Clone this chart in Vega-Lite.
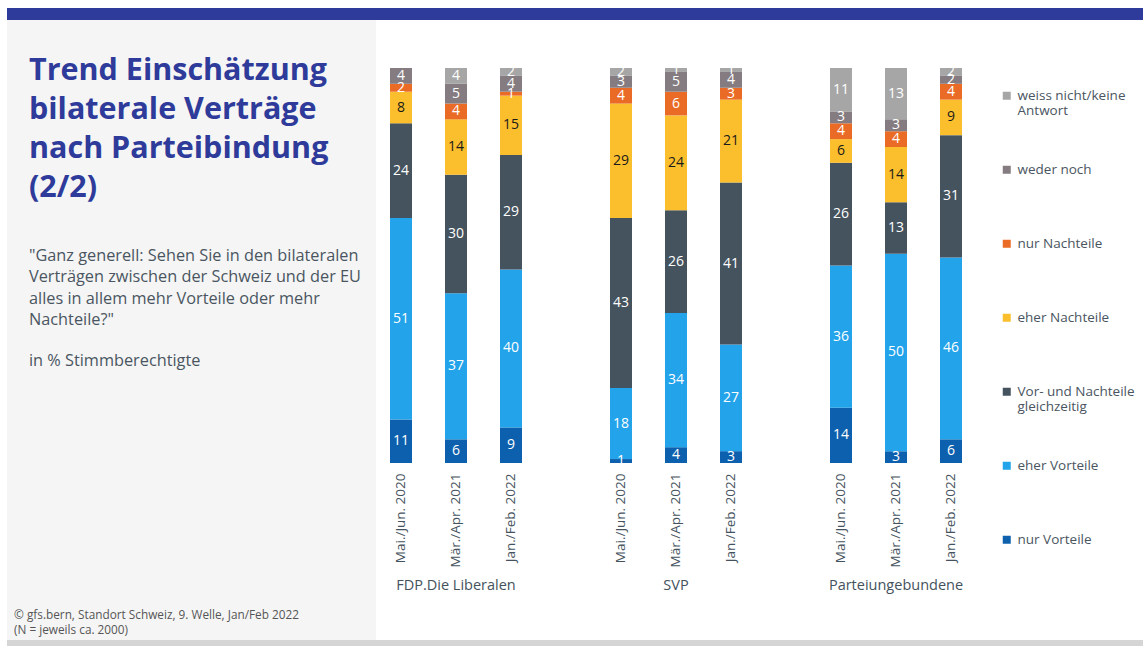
{
  "$schema": "https://vega.github.io/schema/vega-lite/v6.json",
  "background": "white",
  "padding": {"left": 7, "top": 8, "right": 0, "bottom": 0},
  "autosize": {"type": "pad"},
  "spacing": 0,
  "bounds": "full",
  "config": {"view": {"stroke": null}, "font": "Open Sans", "concat": {"spacing": 0}},
  "vconcat": [
    {"width": 1136, "height": 12, "view": {"fill": "#2e3b9a", "stroke": null}, "data": {"values": []}, "mark": "point", "encoding": {}},
    {
      "spacing": 0,
      "bounds": "full",
      "hconcat": [
        {
          "spacing": 0,
          "bounds": "full",
          "vconcat": [
            {
              "width": 369, "height": 330,
              "view": {"fill": "#f5f5f5", "stroke": null},
              "data": {"values": []}, "mark": "point", "encoding": {},
              "title": {
                "text": ["Trend Einschätzung", "bilaterale Verträge", "nach Parteibindung", "(2/2)"],
                "subtitle": ["\"Ganz generell: Sehen Sie in den bilateralen", "Verträgen zwischen der Schweiz und der EU", "alles in allem mehr Vorteile oder mehr", "Nachteile?\""],
                "orient": "bottom", "anchor": "start", "frame": "group",
                "offset": -294, "dx": 22,
                "font": "Open Sans", "fontSize": 30.5, "fontWeight": "bold", "color": "#2e3b9a", "lineHeight": 39,
                "subtitleFont": "Open Sans", "subtitleFontSize": 16.3, "subtitleColor": "#4a5561", "subtitleLineHeight": 21.5, "subtitlePadding": 44
              }
            },
            {
              "width": 369, "height": 254,
              "view": {"fill": "#f5f5f5", "stroke": null},
              "data": {"values": []}, "mark": "point", "encoding": {},
              "title": {
                "text": "in % Stimmberechtigte",
                "orient": "bottom", "anchor": "start", "frame": "group",
                "offset": -251, "dx": 22,
                "font": "Open Sans", "fontSize": 16.3, "fontWeight": "normal", "color": "#4a5561"
              }
            },
            {
              "width": 369, "height": 36,
              "view": {"fill": "#f5f5f5", "stroke": null},
              "data": {"values": []}, "mark": "point", "encoding": {},
              "title": {
                "text": ["©  gfs.bern, Standort Schweiz, 9. Welle, Jan/Feb 2022", "(N = jeweils ca. 2000)"],
                "orient": "bottom", "anchor": "start", "frame": "group",
                "offset": -30, "dx": 7,
                "font": "Open Sans", "fontSize": 11.8, "fontWeight": "normal", "color": "#555555", "lineHeight": 14.5
              }
            }
          ]
        },
        {
          "width": 600,
          "height": 443,
          "data": {"values": [
            {"g": "FDP.Die Liberalen", "p": "Mai./Jun. 2020", "c": "nur Vorteile", "v": 11},
            {"g": "FDP.Die Liberalen", "p": "Mai./Jun. 2020", "c": "eher Vorteile", "v": 51},
            {"g": "FDP.Die Liberalen", "p": "Mai./Jun. 2020", "c": "Vor- und Nachteile gleichzeitig", "v": 24},
            {"g": "FDP.Die Liberalen", "p": "Mai./Jun. 2020", "c": "eher Nachteile", "v": 8},
            {"g": "FDP.Die Liberalen", "p": "Mai./Jun. 2020", "c": "nur Nachteile", "v": 2},
            {"g": "FDP.Die Liberalen", "p": "Mai./Jun. 2020", "c": "weder noch", "v": 4},
            {"g": "FDP.Die Liberalen", "p": "Mai./Jun. 2020", "c": "weiss nicht/keine Antwort", "v": 0},
            {"g": "FDP.Die Liberalen", "p": "Mär./Apr. 2021", "c": "nur Vorteile", "v": 6},
            {"g": "FDP.Die Liberalen", "p": "Mär./Apr. 2021", "c": "eher Vorteile", "v": 37},
            {"g": "FDP.Die Liberalen", "p": "Mär./Apr. 2021", "c": "Vor- und Nachteile gleichzeitig", "v": 30},
            {"g": "FDP.Die Liberalen", "p": "Mär./Apr. 2021", "c": "eher Nachteile", "v": 14},
            {"g": "FDP.Die Liberalen", "p": "Mär./Apr. 2021", "c": "nur Nachteile", "v": 4},
            {"g": "FDP.Die Liberalen", "p": "Mär./Apr. 2021", "c": "weder noch", "v": 5},
            {"g": "FDP.Die Liberalen", "p": "Mär./Apr. 2021", "c": "weiss nicht/keine Antwort", "v": 4},
            {"g": "FDP.Die Liberalen", "p": "Jan./Feb. 2022", "c": "nur Vorteile", "v": 9},
            {"g": "FDP.Die Liberalen", "p": "Jan./Feb. 2022", "c": "eher Vorteile", "v": 40},
            {"g": "FDP.Die Liberalen", "p": "Jan./Feb. 2022", "c": "Vor- und Nachteile gleichzeitig", "v": 29},
            {"g": "FDP.Die Liberalen", "p": "Jan./Feb. 2022", "c": "eher Nachteile", "v": 15},
            {"g": "FDP.Die Liberalen", "p": "Jan./Feb. 2022", "c": "nur Nachteile", "v": 1},
            {"g": "FDP.Die Liberalen", "p": "Jan./Feb. 2022", "c": "weder noch", "v": 4},
            {"g": "FDP.Die Liberalen", "p": "Jan./Feb. 2022", "c": "weiss nicht/keine Antwort", "v": 2},
            {"g": "SVP", "p": "Mai./Jun. 2020", "c": "nur Vorteile", "v": 1},
            {"g": "SVP", "p": "Mai./Jun. 2020", "c": "eher Vorteile", "v": 18},
            {"g": "SVP", "p": "Mai./Jun. 2020", "c": "Vor- und Nachteile gleichzeitig", "v": 43},
            {"g": "SVP", "p": "Mai./Jun. 2020", "c": "eher Nachteile", "v": 29},
            {"g": "SVP", "p": "Mai./Jun. 2020", "c": "nur Nachteile", "v": 4},
            {"g": "SVP", "p": "Mai./Jun. 2020", "c": "weder noch", "v": 3},
            {"g": "SVP", "p": "Mai./Jun. 2020", "c": "weiss nicht/keine Antwort", "v": 2},
            {"g": "SVP", "p": "Mär./Apr. 2021", "c": "nur Vorteile", "v": 4},
            {"g": "SVP", "p": "Mär./Apr. 2021", "c": "eher Vorteile", "v": 34},
            {"g": "SVP", "p": "Mär./Apr. 2021", "c": "Vor- und Nachteile gleichzeitig", "v": 26},
            {"g": "SVP", "p": "Mär./Apr. 2021", "c": "eher Nachteile", "v": 24},
            {"g": "SVP", "p": "Mär./Apr. 2021", "c": "nur Nachteile", "v": 6},
            {"g": "SVP", "p": "Mär./Apr. 2021", "c": "weder noch", "v": 5},
            {"g": "SVP", "p": "Mär./Apr. 2021", "c": "weiss nicht/keine Antwort", "v": 1},
            {"g": "SVP", "p": "Jan./Feb. 2022", "c": "nur Vorteile", "v": 3},
            {"g": "SVP", "p": "Jan./Feb. 2022", "c": "eher Vorteile", "v": 27},
            {"g": "SVP", "p": "Jan./Feb. 2022", "c": "Vor- und Nachteile gleichzeitig", "v": 41},
            {"g": "SVP", "p": "Jan./Feb. 2022", "c": "eher Nachteile", "v": 21},
            {"g": "SVP", "p": "Jan./Feb. 2022", "c": "nur Nachteile", "v": 3},
            {"g": "SVP", "p": "Jan./Feb. 2022", "c": "weder noch", "v": 4},
            {"g": "SVP", "p": "Jan./Feb. 2022", "c": "weiss nicht/keine Antwort", "v": 1},
            {"g": "Parteiungebundene", "p": "Mai./Jun. 2020", "c": "nur Vorteile", "v": 14},
            {"g": "Parteiungebundene", "p": "Mai./Jun. 2020", "c": "eher Vorteile", "v": 36},
            {"g": "Parteiungebundene", "p": "Mai./Jun. 2020", "c": "Vor- und Nachteile gleichzeitig", "v": 26},
            {"g": "Parteiungebundene", "p": "Mai./Jun. 2020", "c": "eher Nachteile", "v": 6},
            {"g": "Parteiungebundene", "p": "Mai./Jun. 2020", "c": "nur Nachteile", "v": 4},
            {"g": "Parteiungebundene", "p": "Mai./Jun. 2020", "c": "weder noch", "v": 3},
            {"g": "Parteiungebundene", "p": "Mai./Jun. 2020", "c": "weiss nicht/keine Antwort", "v": 11},
            {"g": "Parteiungebundene", "p": "Mär./Apr. 2021", "c": "nur Vorteile", "v": 3},
            {"g": "Parteiungebundene", "p": "Mär./Apr. 2021", "c": "eher Vorteile", "v": 50},
            {"g": "Parteiungebundene", "p": "Mär./Apr. 2021", "c": "Vor- und Nachteile gleichzeitig", "v": 13},
            {"g": "Parteiungebundene", "p": "Mär./Apr. 2021", "c": "eher Nachteile", "v": 14},
            {"g": "Parteiungebundene", "p": "Mär./Apr. 2021", "c": "nur Nachteile", "v": 4},
            {"g": "Parteiungebundene", "p": "Mär./Apr. 2021", "c": "weder noch", "v": 3},
            {"g": "Parteiungebundene", "p": "Mär./Apr. 2021", "c": "weiss nicht/keine Antwort", "v": 13},
            {"g": "Parteiungebundene", "p": "Jan./Feb. 2022", "c": "nur Vorteile", "v": 6},
            {"g": "Parteiungebundene", "p": "Jan./Feb. 2022", "c": "eher Vorteile", "v": 46},
            {"g": "Parteiungebundene", "p": "Jan./Feb. 2022", "c": "Vor- und Nachteile gleichzeitig", "v": 31},
            {"g": "Parteiungebundene", "p": "Jan./Feb. 2022", "c": "eher Nachteile", "v": 9},
            {"g": "Parteiungebundene", "p": "Jan./Feb. 2022", "c": "nur Nachteile", "v": 4},
            {"g": "Parteiungebundene", "p": "Jan./Feb. 2022", "c": "weder noch", "v": 2},
            {"g": "Parteiungebundene", "p": "Jan./Feb. 2022", "c": "weiss nicht/keine Antwort", "v": 2}
          ]},
          "transform": [
            {"calculate": "datum.g + '|' + datum.p", "as": "key"},
            {"calculate": "indexof(['nur Vorteile','eher Vorteile','Vor- und Nachteile gleichzeitig','eher Nachteile','nur Nachteile','weder noch','weiss nicht/keine Antwort'], datum.c)", "as": "ord"},
            {"window": [{"op": "sum", "field": "v", "as": "cum"}], "sort": [{"field": "ord", "order": "ascending"}], "groupby": ["key"], "frame": [null, 0]},
            {"calculate": "datum.cum - datum.v / 2", "as": "mid"}
          ],
          "resolve": {"scale": {"x": "independent"}, "axis": {"x": "independent"}},
          "layer": [
            {
              "mark": {"type": "bar"},
              "encoding": {
                "x": {"field": "key", "type": "nominal",
                  "scale": {"type": "band", "domain": ["FDP.Die Liberalen|Mai./Jun. 2020", "FDP.Die Liberalen|Mär./Apr. 2021", "FDP.Die Liberalen|Jan./Feb. 2022", "gap1", "SVP|Mai./Jun. 2020", "SVP|Mär./Apr. 2021", "SVP|Jan./Feb. 2022", "gap2", "Parteiungebundene|Mai./Jun. 2020", "Parteiungebundene|Mär./Apr. 2021", "Parteiungebundene|Jan./Feb. 2022"], "paddingInner": 0.6, "paddingOuter": 0.2545},
                  "axis": {"title": null, "domain": false, "ticks": false, "labelAngle": -90, "labelAlign": "right", "labelBaseline": "middle", "labelPadding": 10, "labelFontSize": 13.5, "labelFont": "Open Sans", "labelColor": "#44525d", "labelOverlap": false, "labelLimit": 200,
                    "labelExpr": "indexof(datum.value, '|') >= 0 ? split(datum.value, '|')[1] : ''"}
                },
                "y": {"field": "v", "type": "quantitative", "stack": "zero", "scale": {"domain": [0, 100], "range": [443, 48], "nice": false, "zero": true}, "axis": null},
                "color": {"field": "c", "type": "nominal",
                  "scale": {"domain": ["weiss nicht/keine Antwort", "weder noch", "nur Nachteile", "eher Nachteile", "Vor- und Nachteile gleichzeitig", "eher Vorteile", "nur Vorteile"],
                            "range": ["#a6a6a6", "#857c81", "#ea6b26", "#fbbf2d", "#45535e", "#22a3ea", "#0d60ad"]},
                  "legend": {"title": null, "orient": "none", "legendX": 993, "legendY": 81, "symbolType": "square", "symbolSize": 64, "symbolStrokeWidth": 0, "labelFontSize": 13.5, "labelFont": "Open Sans", "labelColor": "#4a5561", "labelOffset": 4, "rowPadding": 44, "labelLimit": 300,
                    "labelExpr": "datum.label == 'weiss nicht/keine Antwort' ? ['weiss nicht/keine', 'Antwort'] : datum.label == 'Vor- und Nachteile gleichzeitig' ? ['Vor- und Nachteile', 'gleichzeitig'] : [datum.label, ' ']"}
                },
                "order": {"field": "ord", "type": "quantitative", "sort": "ascending"}
              }
            },
            {
              "transform": [{"filter": "datum.v > 0"}],
              "mark": {"type": "text", "fontSize": 14, "font": "Open Sans", "align": "center", "baseline": "middle"},
              "encoding": {
                "x": {"field": "key", "type": "nominal",
                  "scale": {"type": "band", "domain": ["FDP.Die Liberalen|Mai./Jun. 2020", "FDP.Die Liberalen|Mär./Apr. 2021", "FDP.Die Liberalen|Jan./Feb. 2022", "gap1", "SVP|Mai./Jun. 2020", "SVP|Mär./Apr. 2021", "SVP|Jan./Feb. 2022", "gap2", "Parteiungebundene|Mai./Jun. 2020", "Parteiungebundene|Mär./Apr. 2021", "Parteiungebundene|Jan./Feb. 2022"], "paddingInner": 0.6, "paddingOuter": 0.2545},
                  "axis": null},
                "y": {"field": "mid", "type": "quantitative", "scale": {"domain": [0, 100], "range": [443, 48], "nice": false, "zero": true}, "axis": null},
                "text": {"field": "v", "type": "quantitative"},
                "color": {"condition": {"test": "datum.c == 'eher Nachteile'", "value": "#1a1a1a"}, "value": "#ffffff"}
              }
            },
            {
              "mark": {"type": "text", "text": "", "opacity": 0},
              "encoding": {
                "x": {"field": "key", "type": "nominal",
                  "scale": {"type": "band", "domain": ["FDP.Die Liberalen|Mai./Jun. 2020", "FDP.Die Liberalen|Mär./Apr. 2021", "FDP.Die Liberalen|Jan./Feb. 2022", "gap1", "SVP|Mai./Jun. 2020", "SVP|Mär./Apr. 2021", "SVP|Jan./Feb. 2022", "gap2", "Parteiungebundene|Mai./Jun. 2020", "Parteiungebundene|Mär./Apr. 2021", "Parteiungebundene|Jan./Feb. 2022"], "paddingInner": 0.6, "paddingOuter": 0.2545},
                  "axis": {"orient": "bottom", "title": null, "domain": false, "ticks": false, "labelAngle": 0, "labelAlign": "center", "labelBaseline": "top", "labelPadding": 115, "labelFontSize": 14.5, "labelFont": "Open Sans", "labelColor": "#44525d", "labelOverlap": false, "labelLimit": 300,
                    "labelExpr": "indexof(datum.value, 'Mär./Apr.') >= 0 ? split(datum.value, '|')[0] : ''"}
                }
              }
            }
          ]
        }
      ]
    },
    {"width": 1136, "height": 6, "view": {"fill": "#d5d5d5", "stroke": null}, "data": {"values": []}, "mark": "point", "encoding": {}}
  ]
}
